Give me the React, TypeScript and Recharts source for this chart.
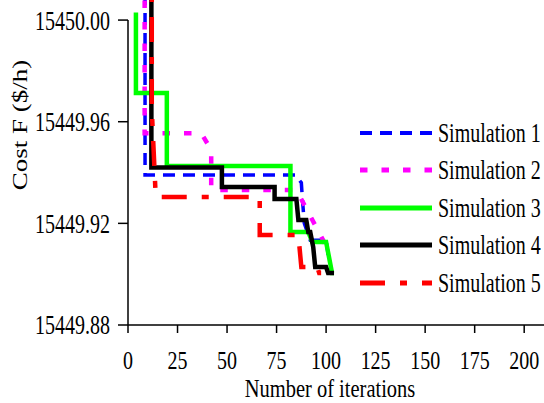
import { LineChart, Line, XAxis, YAxis, ReferenceLine, Legend } from 'recharts'

// tick values
const xTicks = [0, 25, 50, 75, 100, 125, 150, 175, 200]
const yTicks = [15449.88, 15449.92, 15449.96, 15450.0]

// each series: iteration / cost pairs at the corners of the convergence curve
const sim1Iter = [8.6, 8.6, 85, 86, 87.5, 88, 89, 92, 100, 101.5]
const sim1Cost = [15450.05, 15449.939, 15449.939, 15449.9375, 15449.936, 15449.93, 15449.92, 15449.9134, 15449.9134, 15449.905]

const sim2Iter = [8.4, 8.4, 37, 42, 42, 85, 101.5]
const sim2Cost = [15450.05, 15449.9555, 15449.9555, 15449.9489, 15449.9331, 15449.9331, 15449.909]

const sim3Iter = [4, 4, 19.6, 19.6, 82, 82, 91, 93, 100, 103, 104]
const sim3Cost = [15450.003, 15449.9713, 15449.9713, 15449.9426, 15449.9426, 15449.9166, 15449.9166, 15449.9127, 15449.9127, 15449.9005, 15449.9005]

const sim4Iter = [11.8, 11.8, 47.4, 47.4, 74, 74, 85, 86, 90, 91, 92, 93.5, 94.5, 100, 101, 104]
const sim4Cost = [15450.05, 15449.942, 15449.942, 15449.9343, 15449.9343, 15449.9296, 15449.9296, 15449.9213, 15449.9213, 15449.9166, 15449.9166, 15449.9107, 15449.9028, 15449.9028, 15449.9005, 15449.9005]

const sim5Iter = [12, 12, 14, 66.5, 66.5, 86, 87.5, 95.5, 96.5, 97.5]
const sim5Cost = [15450.05, 15449.965, 15449.9304, 15449.9304, 15449.9154, 15449.9154, 15449.9028, 15449.9028, 15449.9005, 15449.9005]

const toPoints = (iters: number[], costs: number[]) =>
    iters.map((it, i) => ({ iter: it, cost: costs[i] }))

const series = [
    { name: 'Simulation 1', data: toPoints(sim1Iter, sim1Cost), color: '#0000FF', width: 3.5, dash: '12 8' },
    { name: 'Simulation 2', data: toPoints(sim2Iter, sim2Cost), color: '#FF00FF', width: 4.5, dash: '7.5 14' },
    { name: 'Simulation 3', data: toPoints(sim3Iter, sim3Cost), color: '#00FF00', width: 4.5, dash: undefined },
    { name: 'Simulation 4', data: toPoints(sim4Iter, sim4Cost), color: '#000000', width: 4.5, dash: undefined },
    { name: 'Simulation 5', data: toPoints(sim5Iter, sim5Cost), color: '#FF0000', width: 4.5, dash: '25 15 7 15' },
]

const FONT = '"Liberation Serif", "Times New Roman", serif'
const STRETCH = 1.35

function YTick(props: any) {
    const { x, y, payload } = props
    return (
        <g transform={`translate(${x},${y}) scale(1,${STRETCH})`}>
            <text x={0} y={0} dy="0.35em" textAnchor="end" fontSize={20} fontFamily={FONT} fill="#000">
                {Number(payload.value).toFixed(2)}
            </text>
        </g>
    )
}

function XTick(props: any) {
    const { x, y, payload } = props
    return (
        <g transform={`translate(${x},${y}) scale(1,1.25)`}>
            <text x={0} y={0} dy="0.35em" textAnchor="middle" fontSize={20} fontFamily={FONT} fill="#000">
                {payload.value}
            </text>
        </g>
    )
}

function XTitle() {
    return (
        <g transform={`translate(330,388) scale(1,1.2)`}>
            <text x={0} y={0} dy="0.35em" textAnchor="middle" fontSize={20.5} fontFamily={FONT} fill="#000">
                Number of iterations
            </text>
        </g>
    )
}

function YTitle() {
    return (
        <g transform={`translate(20,125) scale(1,${STRETCH}) rotate(-90)`}>
            <text x={0} y={0} dy="0.35em" textAnchor="middle" fontSize={20} fontFamily={FONT} fill="#000">
                Cost F ($/h)
            </text>
        </g>
    )
}

function LegendBox() {
    return (
        <div style={{ fontFamily: FONT, color: '#000' }}>
            {series.map((s) => (
                <div key={s.name} style={{ display: 'flex', alignItems: 'center', height: 37.5 }}>
                    <svg width={72} height={10} style={{ display: 'block' }}>
                        <line x1={0} y1={5} x2={72} y2={5} stroke={s.color} strokeWidth={s.width + 0.5} strokeDasharray={s.dash} />
                    </svg>
                    <span
                        style={{
                            fontSize: 20,
                            lineHeight: '20px',
                            display: 'inline-block',
                            marginLeft: 6,
                            transform: `scaleY(${STRETCH})`,
                            whiteSpace: 'nowrap',
                        }}
                    >
                        {s.name}
                    </span>
                </div>
            ))}
        </div>
    )
}

export default function App() {
    return (
        <div style={{ width: 544, height: 403 }}>
            <style>{'body{margin:0}'}</style>
            <LineChart width={544} height={403} margin={{ top: 0, right: 0, bottom: 0, left: 0 }}>
                <XAxis
                    dataKey="iter"
                    type="number"
                    domain={[0, 210]}
                    ticks={xTicks}
                    height={78}
                    tickSize={8}
                    tickMargin={27}
                    tick={<XTick />}
                    axisLine={{ stroke: '#000', strokeWidth: 1.5 }}
                    tickLine={{ stroke: '#000', strokeWidth: 1.5 }}
                    label={<XTitle />}
                />
                <YAxis
                    type="number"
                    domain={[15449.88, 15450.0079]}
                    allowDataOverflow
                    ticks={yTicks}
                    width={128}
                    tickSize={10}
                    tickMargin={8}
                    tick={<YTick />}
                    axisLine={false}
                    tickLine={{ stroke: '#000', strokeWidth: 1.5 }}
                    label={<YTitle />}
                />
                <ReferenceLine
                    segment={[{ x: 0, y: 15449.88 }, { x: 0, y: 15450.0 }]}
                    stroke="#000"
                    strokeWidth={1.5}
                />
                {series.map((s) => (
                    <Line
                        key={s.name}
                        data={s.data}
                        dataKey="cost"
                        name={s.name}
                        type="linear"
                        stroke={s.color}
                        strokeWidth={s.width}
                        strokeDasharray={s.dash}
                        dot={false}
                        activeDot={false}
                        isAnimationActive={false}
                    />
                ))}
                <Legend
                    layout="vertical"
                    align="center"
                    verticalAlign="middle"
                    content={<LegendBox />}
                    wrapperStyle={{ left: 360, top: 114, width: 184, bottom: 'auto', right: 'auto' }}
                />
            </LineChart>
        </div>
    )
}
